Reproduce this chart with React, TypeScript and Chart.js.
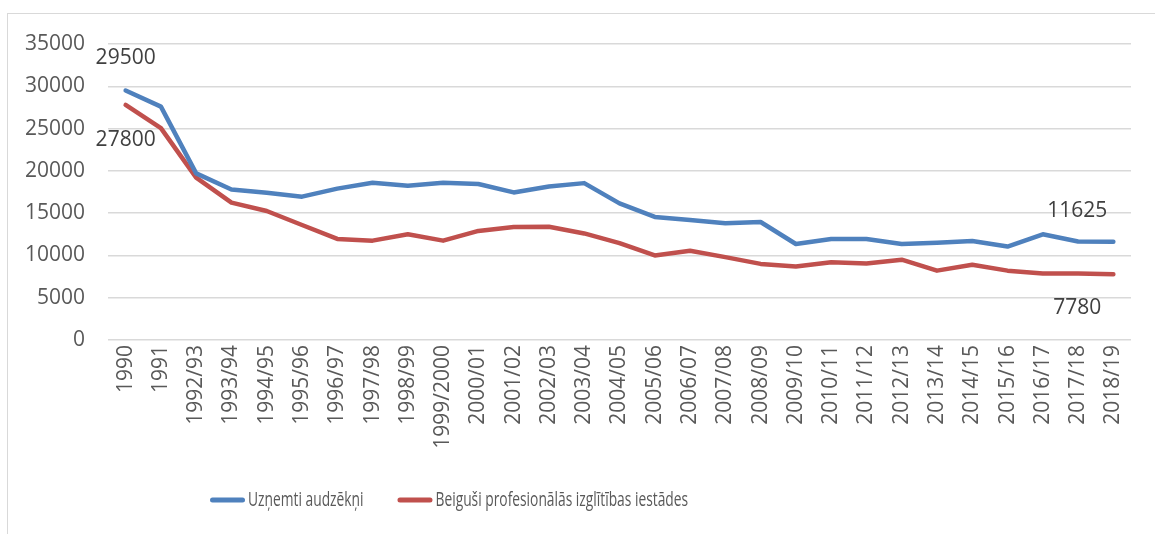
import React, { useEffect, useRef } from "react";
import { Chart, registerables } from "chart.js";

Chart.register(...registerables);

const categories = [
  "1990", "1991", "1992/93", "1993/94", "1994/95", "1995/96", "1996/97", "1997/98",
  "1998/99", "1999/2000", "2000/01", "2001/02", "2002/03", "2003/04", "2004/05",
  "2005/06", "2006/07", "2007/08", "2008/09", "2009/10", "2010/11", "2011/12",
  "2012/13", "2013/14", "2014/15", "2015/16", "2016/17", "2017/18", "2018/19",
];

const enrolled = [
  29500, 27600, 19700, 17800, 17400, 16950, 17900, 18600, 18250, 18600, 18450,
  17450, 18150, 18550, 16150, 14550, 14200, 13800, 13950, 11350, 11950, 11950,
  11350, 11500, 11700, 11050, 12500, 11650, 11625,
];

const graduated = [
  27800, 25050, 19200, 16250, 15250, 13600, 11950, 11750, 12500, 11750, 12900,
  13350, 13400, 12600, 11450, 10000, 10550, 9800, 9000, 8700, 9200, 9050, 9500,
  8200, 8900, 8200, 7850, 7850, 7780,
];

const seriesNames = ["Uzņemti audzēkņi", "Beiguši profesionālās izglītības iestādes"];
const seriesColors = ["#4F81BD", "#C0504D"];

const yMin = 0;
const yMax = 35000;
const yStep = 5000;

const AXIS_FONT = '"Open Sans", "Liberation Sans", sans-serif';

export default function App() {
  const ref = useRef<HTMLCanvasElement>(null);

  useEffect(() => {
    if (!ref.current) return;

    const labelPlugin = {
      id: "valueLabels",
      afterDatasetsDraw(chart: any) {
        const ctx = chart.ctx;
        const blue = chart.getDatasetMeta(0).data;
        const red = chart.getDatasetMeta(1).data;
        const n = blue.length;
        ctx.save();
        ctx.font = `21px ${AXIS_FONT}`;
        ctx.fillStyle = "#404040";
        ctx.textAlign = "center";
        ctx.textBaseline = "middle";
        ctx.fillText(String(enrolled[0]), blue[0].x, blue[0].y - 32);
        ctx.fillText(String(graduated[0]), red[0].x, red[0].y + 35);
        ctx.fillText(String(enrolled[n - 1]), blue[n - 1].x - 36, blue[n - 1].y - 31);
        ctx.fillText(String(graduated[n - 1]), red[n - 1].x - 36, red[n - 1].y + 34);
        ctx.restore();
      },
    };

    // Legend drawn with horizontally condensed text (like the reference's narrow font)
    const legendPlugin = {
      id: "condensedLegend",
      afterDraw(chart: any) {
        const ctx = chart.ctx;
        const area = chart.chartArea;
        const squeeze = 0.69;
        const lineLen = 35;
        const gap = 3;
        const itemGap = 34;
        const y = 500;
        let x = area.left + 102;
        ctx.save();
        ctx.font = `20px ${AXIS_FONT}`;
        ctx.textBaseline = "middle";
        seriesNames.forEach((name, i) => {
          ctx.strokeStyle = seriesColors[i];
          ctx.lineWidth = 5;
          ctx.lineCap = "round";
          ctx.beginPath();
          ctx.moveTo(x + 2.5, y);
          ctx.lineTo(x + lineLen - 2.5, y);
          ctx.stroke();
          x += lineLen + gap;
          const w = ctx.measureText(name).width * squeeze;
          ctx.save();
          ctx.translate(x, y);
          ctx.scale(squeeze, 1);
          ctx.fillStyle = "#595959";
          ctx.textAlign = "left";
          ctx.fillText(name, 0, 0);
          ctx.restore();
          x += w + itemGap;
        });
        ctx.restore();
      },
    };

    const chart = new Chart(ref.current, {
      type: "line",
      data: {
        labels: categories,
        datasets: [
          {
            label: seriesNames[0],
            data: enrolled,
            borderColor: seriesColors[0],
            backgroundColor: seriesColors[0],
            borderWidth: 4.5,
            pointRadius: 0,
            tension: 0,
            borderCapStyle: "round",
            borderJoinStyle: "round",
          },
          {
            label: seriesNames[1],
            data: graduated,
            borderColor: seriesColors[1],
            backgroundColor: seriesColors[1],
            borderWidth: 4.5,
            pointRadius: 0,
            tension: 0,
            borderCapStyle: "round",
            borderJoinStyle: "round",
          },
        ],
      },
      options: {
        responsive: false,
        animation: false,
        devicePixelRatio: 1,
        layout: { padding: { top: 44, right: 24, bottom: 44, left: 0 } },
        plugins: {
          tooltip: { enabled: false },
          legend: { display: false },
        },
        scales: {
          x: {
            offset: true,
            grid: { display: false, drawTicks: false },
            border: { display: false },
            ticks: {
              autoSkip: false,
              minRotation: 90,
              maxRotation: 90,
              padding: 5,
              color: "#595959",
              font: { family: AXIS_FONT, size: 21 },
            },
            afterFit(scale: any) {
              scale.height = 150;
            },
          },
          y: {
            min: yMin,
            max: yMax,
            border: { display: false },
            grid: { color: "#D9D9D9", lineWidth: 1.5, drawTicks: false },
            ticks: {
              stepSize: yStep,
              padding: 23,
              color: "#595959",
              font: { family: AXIS_FONT, size: 21 },
              callback: (v: any) => String(v),
            },
            afterFit(scale: any) {
              scale.width = 108;
            },
          },
        },
      },
      plugins: [labelPlugin, legendPlugin],
    });

    return () => chart.destroy();
  }, []);

  return (
    <div style={{ position: "absolute", left: 0, top: 0, width: 1155, height: 534, background: "#fff", overflow: "hidden" }}>
      <div
        style={{
          position: "absolute",
          left: 7,
          top: 13,
          width: 1160,
          height: 540,
          borderLeft: "1.5px solid #D9D9D9",
          borderTop: "1.5px solid #D9D9D9",
        }}
      />
      <canvas ref={ref} width={1155} height={534} style={{ position: "absolute", left: 0, top: 0 }} />
    </div>
  );
}
